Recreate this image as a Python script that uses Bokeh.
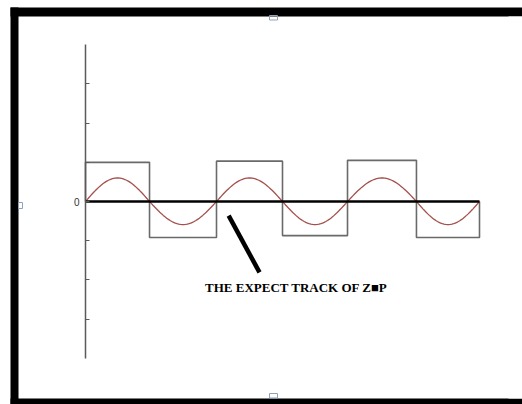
import numpy as np
from bokeh.plotting import figure
from bokeh.models import LinearAxis, FixedTicker, Range1d
from bokeh.core.properties import value
from bokeh.embed import file_html
from bokeh.resources import INLINE

# ---- data (x in half-periods, y in tick units) ----
edges = [0.0, 0.975, 1.995, 3.0, 3.99, 5.04, 6.0]      # square-wave switching points
levels = [1.0, -0.92, 1.03, -0.87, 1.05, -0.92]         # square-wave level per half period
peaks = [0.6, -0.59, 0.6, -0.59, 0.6, -0.59]            # sine peak per half period
y_ticks = [-3, -2, -1, 0, 1, 2, 3]
y_tick_labels = {0: "0"}
axis_bounds = (-4, 4)
pointer_x = [2.18, 2.65]
pointer_y = [-0.36, -1.81]
note = "THE EXPECT TRACK OF Z\u25a0P"
note_x = [1.82]
note_y = [-2.2]

# ---- layout (pixel geometry of the picture frame) ----
W, H = 522, 404
sx = 394 / 6.0      # px per half period
sy = 39.17          # px per tick unit
ox, oy = 85, 201    # screen position of the origin
x0 = edges[0] - ox / sx
x1 = x0 + W / sx
y1 = oy / sy
y0 = y1 - H / sy


def dx(px):
    return x0 + px / sx


def dy(py):
    return y1 - py / sy


def box(l, r, t, b):
    return [dx(l), dx(r), dx(r), dx(l)], [dy(t), dy(t), dy(b), dy(b)]


p = figure(width=W, height=H, output_backend="svg", toolbar_location=None,
           x_range=Range1d(x0, x1), y_range=Range1d(y0, y1),
           x_axis_location=None, y_axis_location=None,
           min_border=0, min_border_left=0, min_border_top=0,
           min_border_bottom=0, min_border_right=0)
p.grid.visible = False
p.outline_line_color = None
p.background_fill_color = "white"
p.border_fill_color = "white"

# black picture frame (top, left, bottom bands)
bands = [box(10, W, 7, 16), box(10, 18, 7, H), box(10, W, 398, H)]
p.patches([b[0] for b in bands], [b[1] for b in bands],
          fill_color="black", line_color=None)
# keep the right edge of the picture white
cover = box(W - 14, W, 16, 398)
p.patch(cover[0], cover[1], fill_color="white", line_color=None)
# selection handles
handles = [box(269, 277, 15, 19.5), box(18, 22, 202, 208), box(269, 277, 393, 397.5)]
p.patches([b[0] for b in handles], [b[1] for b in handles],
          fill_color=None, line_color="#8ea3bb", line_width=1)

# square wave
sq_x, sq_y = [edges[0]], [0.0]
for i, lv in enumerate(levels):
    sq_x += [edges[i], edges[i + 1]]
    sq_y += [lv, lv]
sq_x.append(edges[-1]); sq_y.append(0.0)
p.line(sq_x, sq_y, line_color="#6a6a6a", line_width=1.6)

# sine wave
sx_all, sy_all = [], []
for i, pk in enumerate(peaks):
    xs = np.linspace(edges[i], edges[i + 1], 40)
    ys = pk * np.sin(np.pi * (xs - edges[i]) / (edges[i + 1] - edges[i]))
    sx_all += list(xs); sy_all += list(ys)
p.line(sx_all, sy_all, line_color="#a4504c", line_width=1.3)

# pointer and note
p.line(pointer_x, pointer_y, line_color="black", line_width=4.5)
p.text(note_x, note_y, text=[note], text_font=value("Liberation Serif"),
       text_font_size="13px", text_font_style="bold", text_color="black",
       text_baseline="middle", text_align="left")

# vertical axis
yax = LinearAxis(fixed_location=0, bounds=axis_bounds,
                 ticker=FixedTicker(ticks=y_ticks),
                 major_label_overrides={t: y_tick_labels.get(t, "") for t in y_ticks})
yax.axis_line_color = "#5a5a5a"
yax.axis_line_width = 1.5
yax.major_tick_line_color = "#5a5a5a"
yax.major_tick_in = 4
yax.major_tick_out = 0
yax.minor_tick_line_color = None
yax.major_label_standoff = 6
yax.major_label_text_font = "Liberation Sans"
yax.major_label_text_font_size = "10px"
yax.major_label_text_color = "#333333"
p.add_layout(yax, "left")

# horizontal zero line
xax = LinearAxis(fixed_location=0, bounds=(edges[0], edges[-1]),
                 ticker=FixedTicker(ticks=[]))
xax.axis_line_color = "black"
xax.axis_line_width = 2.5
xax.major_tick_line_color = None
xax.minor_tick_line_color = None
xax.major_label_text_font_size = "0px"
p.add_layout(xax, "below")

open("out.html", "w").write(file_html(p, INLINE))
